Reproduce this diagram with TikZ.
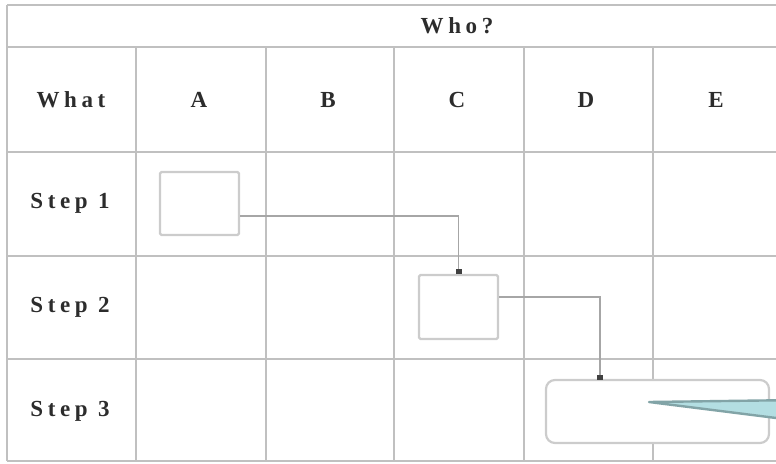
\documentclass[tikz,border=0pt]{standalone}
\usepackage{fontspec}
\setmainfont{Liberation Serif}
\usetikzlibrary{arrows.meta}
\definecolor{gridgray}{HTML}{C0C0C0}
\definecolor{boxgray}{HTML}{CCCCCC}
\definecolor{txt}{HTML}{2C2C2C}
\definecolor{calloutfill}{HTML}{B3DEE2}
\definecolor{calloutedge}{HTML}{82A4A7}
\tikzset{
  gridline/.style={draw=gridgray, line width=2.6pt},
  lbl/.style={text=txt, font=\fontsize{23}{26}\selectfont\bfseries\addfontfeatures{LetterSpace=20}, inner sep=0pt},
  procbox/.style={draw=boxgray, fill=white, line width=2.2pt, rounded corners=1.5pt, inner sep=0pt},
  endbox/.style={draw=boxgray, fill=white, line width=2.2pt, rounded corners=9pt, inner sep=0pt},
  flow/.style={draw=gray!70, line width=1.4pt, -{Square[length=5pt,width=6pt,color=black!75,fill=black!75]}},
}
\begin{document}
\begin{tikzpicture}[x=1pt,y=-1pt]
\useasboundingbox (0,0) rectangle (776,463);
\clip (0,0) rectangle (776,463);
% table grid
\foreach \yy in {5,47,152,256,359,461} \draw[gridline] (7,\yy) -- (800,\yy);
\draw[gridline] (7,5) -- (7,461);
\foreach \xx in {136,266,394,524,653} \draw[gridline] (\xx,47) -- (\xx,461);
% labels
\node[lbl] (who) at (457,26) {Who?};
\node[lbl] (what) at (71,100) {What};
\node[lbl] (hA) at (199,100) {A};
\node[lbl] (hB) at (328,100) {B};
\node[lbl] (hC) at (457,100) {C};
\node[lbl] (hD) at (586,100) {D};
\node[lbl] (hE) at (716,100) {E};
\node[lbl] (s1) at (70,203) {Step 1};
\node[lbl] (s2) at (70,307) {Step 2};
\node[lbl] (s3) at (70,411) {Step 3};
% boxes
\node[procbox, minimum width=79pt, minimum height=63pt] (bA) at (199.5,203.5) {};
\node[procbox, minimum width=79pt, minimum height=64pt] (bC) at (458.5,307) {};
\node[endbox, minimum width=223pt, minimum height=63pt] (bE) at (657.5,411.5) {};
\coordinate (inE) at (600,380);
% connectors
\draw[flow] ([yshift=-12.5pt]bA.east) -| (bC.north);
\draw[flow] ([yshift=10pt]bC.east) -| (inE);
% callout wedge
\filldraw[fill=calloutfill, draw=calloutedge, line width=2.4pt, line join=round, line cap=round]
  (649,402) -- (800,400) -- (800,421) -- cycle;
\end{tikzpicture}
\end{document}
